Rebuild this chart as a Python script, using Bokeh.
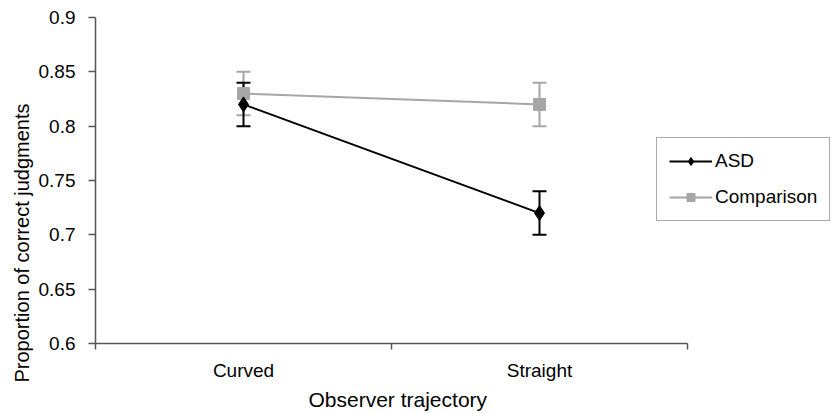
from bokeh.plotting import figure
from bokeh.models import (ColumnDataSource, Range1d, FixedTicker, NumeralTickFormatter,
                          Whisker, TeeHead, Legend, LegendItem, Title)
from bokeh.embed import file_html
from bokeh.resources import INLINE

categories = ["Curved", "Straight"]
asd_values = [0.82, 0.72]
asd_errors = [0.02, 0.02]
comp_values = [0.83, 0.82]
comp_errors = [0.02, 0.02]
y_ticks = [0.6, 0.65, 0.7, 0.75, 0.8, 0.85, 0.9]
x_title = "Observer trajectory"
y_title = "Proportion of correct judgments"

FONT = "Liberation Sans"
BLACK = "#000000"
GRAY = "#a6a6a6"
AXIS = "#555555"

xs = [i + 0.5 for i in range(len(categories))]
n_cat = len(categories)

p = figure(width=832, height=413, output_backend="svg", toolbar_location=None,
           x_range=Range1d(0, n_cat * 737 / 592), y_range=Range1d(0.6, 0.9),
           min_border_left=95, min_border_top=17, min_border_bottom=70, min_border_right=0)
p.grid.visible = False
p.outline_line_color = None
p.background_fill_color = "white"
p.border_fill_color = "white"

def src(vals, errs):
    return ColumnDataSource(dict(x=xs, y=vals,
                                 lower=[v - e for v, e in zip(vals, errs)],
                                 upper=[v + e for v, e in zip(vals, errs)]))

s_comp = src(comp_values, comp_errors)
s_asd = src(asd_values, asd_errors)

for s, c in ((s_comp, GRAY), (s_asd, BLACK)):
    w = Whisker(source=s, base="x", lower="lower", upper="upper", dimension="height",
                line_color=c, line_width=2,
                upper_head=TeeHead(size=14, line_color=c, line_width=2),
                lower_head=TeeHead(size=14, line_color=c, line_width=2))
    p.add_layout(w)

l_comp = p.line("x", "y", source=s_comp, line_color=GRAY, line_width=2)
m_comp = p.scatter("x", "y", source=s_comp, marker="square", size=12,
                   fill_color=GRAY, line_color=GRAY)
l_asd = p.line("x", "y", source=s_asd, line_color=BLACK, line_width=2)
m_asd = p.scatter("x", "y", source=s_asd, marker="diamond", size=15,
                  fill_color=BLACK, line_color=BLACK)

# axes
xa = p.xaxis[0]
xa.ticker = FixedTicker(ticks=xs, minor_ticks=list(range(n_cat + 1)))
xa.major_label_overrides = {x: c for x, c in zip(xs, categories)}
xa.bounds = (0, n_cat)
xa.major_tick_out = 0
xa.major_tick_in = 0
xa.minor_tick_out = 6
xa.minor_tick_in = 0
xa.minor_tick_line_color = AXIS
xa.minor_tick_line_width = 1.5
xa.major_label_standoff = 10

ya = p.yaxis[0]
ya.ticker = FixedTicker(ticks=y_ticks, minor_ticks=[])
ya.formatter = NumeralTickFormatter(format="0.[00]")
ya.major_tick_out = 7
ya.major_tick_in = 0
ya.minor_tick_out = 0
ya.minor_tick_in = 0
ya.major_tick_line_color = AXIS
ya.major_tick_line_width = 1.5
ya.major_label_standoff = 13

for ax in (xa, ya):
    ax.axis_line_color = AXIS
    ax.axis_line_width = 1.5
    ax.major_label_text_font = FONT
    ax.major_label_text_font_size = "19px"
    ax.major_label_text_color = "#000000"

# axis titles, placed like the original (centred on the categories / shifted down)
p.add_layout(Title(text=x_title, align="left", offset=213, standoff=5,
                   text_font=FONT, text_font_size="21px", text_font_style="normal",
                   text_color="#000000"), "below")
p.add_layout(Title(text=y_title, align="left", offset=-39, standoff=5,
                   text_font=FONT, text_font_size="20px", text_font_style="normal",
                   text_color="#000000"), "left")

legend = Legend(items=[LegendItem(label="ASD", renderers=[l_asd, m_asd]),
                       LegendItem(label="Comparison", renderers=[l_comp, m_comp])],
                location=(561, 122))
legend.label_text_font = FONT
legend.label_text_font_size = "19px"
legend.label_text_color = "#000000"
legend.label_standoff = 3
legend.glyph_width = 43
legend.glyph_height = 20
legend.label_height = 20
legend.spacing = 14
legend.padding = 12
legend.margin = 0
legend.border_line_color = "#555555"
legend.border_line_width = 1.5
legend.background_fill_color = "white"
legend.background_fill_alpha = 1
p.add_layout(legend, "center")

open("out.html", "w").write(file_html(p, INLINE))
